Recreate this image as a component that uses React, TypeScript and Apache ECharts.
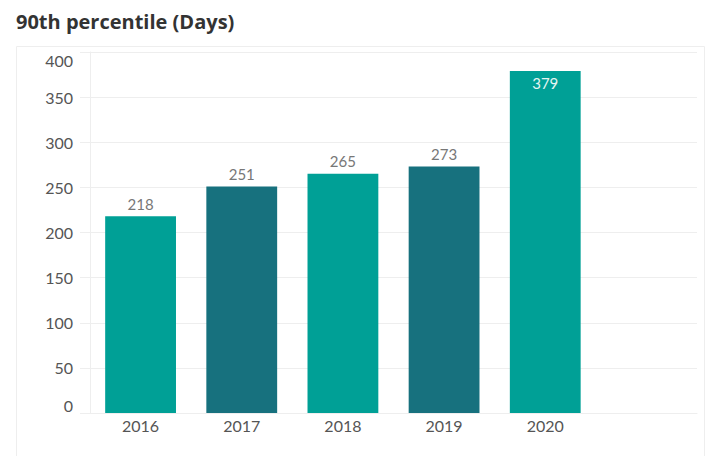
import React, { useEffect, useRef } from "react";
import * as echarts from "echarts";

const title = "90th percentile (Days)";
const categories = ["2016", "2017", "2018", "2019", "2020", ""];
const values = [218, 251, 265, 273, 379];
const barColors = ["#00a096", "#17717e", "#00a096", "#17717e", "#00a096"];
const yTicks = { min: 0, max: 400, interval: 50 };

export default function App() {
  const ref = useRef<HTMLDivElement>(null);
  useEffect(() => {
    if (!ref.current) return;
    const chart = echarts.init(ref.current, undefined, { renderer: "svg" });
    const font = "Lato, 'Noto Sans', sans-serif";
    chart.setOption({
      animation: false,
      textStyle: { fontFamily: font },
      title: {
        text: title,
        left: 11,
        top: 6,
        textStyle: { fontFamily: "'Open Sans', sans-serif", fontSize: 20, fontWeight: "bold", color: "#333" },
      },
      graphic: [
        {
          type: "rect",
          shape: { x: 16.5, y: 46.5, width: 688, height: 420 },
          style: { fill: "none", stroke: "#eeeeee", lineWidth: 1 },
          silent: true,
        },
      ],
      grid: { left: 90, top: 52, right: 22, bottom: 43 },
      xAxis: {
        type: "category",
        data: categories,
        axisLine: { lineStyle: { color: "#eeeeee" } },
        axisTick: { show: false },
        axisLabel: { color: "#555", fontSize: 16, margin: 4, fontFamily: font },
      },
      yAxis: {
        type: "value",
        min: yTicks.min,
        max: yTicks.max,
        interval: yTicks.interval,
        axisLine: { show: true, lineStyle: { color: "#eeeeee" } },
        axisTick: { show: true, length: 10, lineStyle: { color: "#eeeeee" } },
        splitLine: { lineStyle: { color: "#eeeeee" } },
        axisLabel: {
          color: "#555",
          fontSize: 16,
          margin: 17,
          fontFamily: font,
          verticalAlignMinLabel: "bottom",
          verticalAlignMaxLabel: "top",
        },
      },
      series: [
        {
          type: "bar",
          barWidth: "70%",
          data: values.map((v, i) => {
            const inside = i === values.length - 1;
            return {
              value: v,
              itemStyle: { color: barColors[i] },
              label: inside
                ? { show: true, position: "insideTop", distance: 5, color: "#e6f4f2", fontSize: 15 }
                : { show: true, position: "top", distance: 5, color: "#777", fontSize: 15 },
            };
          }),
          label: { show: true, fontFamily: font },
        },
      ],
    });
    return () => chart.dispose();
  }, []);
  return (
    <div
      ref={ref}
      style={{ position: "absolute", left: 0, top: 0, width: 719, height: 456, background: "#fff" }}
    />
  );
}
